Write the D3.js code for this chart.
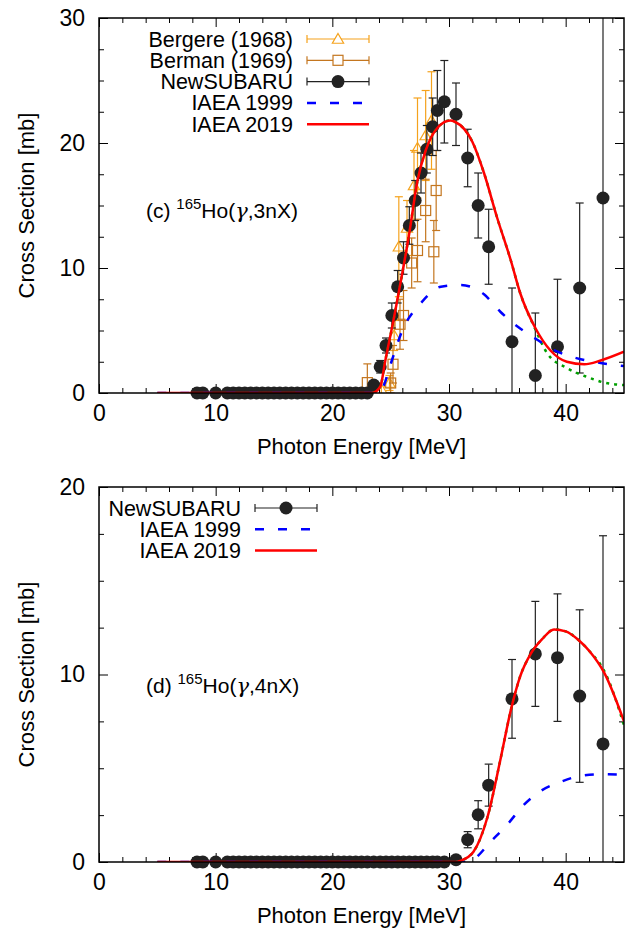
<!DOCTYPE html>
<html>
<head>
<meta charset="utf-8">
<script src="https://cdn.jsdelivr.net/npm/d3@7"></script>
<style>
body { margin: 0; background: #fff; }
text { font-family: "Liberation Sans", Arial, sans-serif; fill: #000; }
</style>
</head>
<body>
<div id="chart"></div>
<script>
// ---------- data ----------
// NewSUBARU energies (shared by both panels)
let nsEnergy = [8.4, 8.9, 10.0, 11.0, 11.5, 12.0, 12.5, 13.0, 13.5, 14.0, 14.5, 15.0, 15.5, 16.0,
  16.5, 17.0, 17.5, 18.0, 18.5, 19.0, 19.5, 20.0, 20.5, 21.0, 21.5, 22.0, 22.5, 23.0,
  23.55, 24.1, 24.6, 25.1, 25.6, 26.1, 26.6, 27.1, 27.6, 28.1, 28.6, 29.0, 29.6,
  30.6, 31.6, 32.5, 33.4, 35.4, 37.4, 39.3, 41.2, 43.2];

// (g,3nX)
let ns3Value = [0, 0, 0, 0, 0, 0, 0, 0, 0, 0, 0, 0, 0, 0, 0, 0, 0, 0, 0, 0, 0, 0, 0, 0, 0, 0, 0, 0,
  0.64, 2.1, 3.8, 6.2, 8.5, 10.8, 13.4, 15.4, 17.6, 19.5, 21.3, 22.6, 23.3,
  22.3, 18.8, 15.0, 11.7, 4.1, 1.4, 3.7, 8.4, 15.6];
let ns3Error = [0, 0, 0, 0, 0, 0, 0, 0, 0, 0, 0, 0, 0, 0, 0, 0, 0, 0, 0, 0, 0, 0, 0, 0, 0, 0, 0, 0,
  0.3, 0.5, 0.6, 1.0, 1.3, 1.3, 1.5, 1.6, 1.6, 1.9, 2.3, 3.2, 3.3,
  2.5, 2.3, 2.6, 3.0, 4.3, 5.0, 5.4, 6.8, 17.0];

// (g,4nX)
let ns4Value = [0, 0, 0, 0, 0, 0, 0, 0, 0, 0, 0, 0, 0, 0, 0, 0, 0, 0, 0, 0, 0, 0, 0, 0, 0, 0, 0, 0,
  0, 0, 0, 0, 0, 0, 0, 0, 0, 0, 0, 0, 0,
  0.12, 1.19, 2.52, 4.1, 8.7, 11.1, 10.9, 8.85, 6.3];
let ns4Error = [0, 0, 0, 0, 0, 0, 0, 0, 0, 0, 0, 0, 0, 0, 0, 0, 0, 0, 0, 0, 0, 0, 0, 0, 0, 0, 0, 0,
  0, 0, 0, 0, 0, 0, 0, 0, 0, 0, 0, 0, 0,
  0.1, 0.43, 0.75, 1.12, 2.1, 2.8, 3.4, 4.6, 11.1];

// Bergere (1968), (g,3nX)
let bergereEnergy = [24.2, 24.9, 25.3, 25.7, 26.4, 27.0, 27.3, 28.0, 28.5];
let bergereValue  = [0.3, 0.8, 4.6, 11.7, 13.2, 16.6, 19.6, 20.6, 21.8];
let bergereError  = [0.5, 0.6, 1.2, 4.0, 2.2, 2.8, 4.0, 3.6, 3.9];

// Berman (1969), (g,3nX)
let bermanEnergy = [23.0, 25.0, 25.2, 25.8, 26.1, 26.8, 27.3, 28.0, 28.7, 28.9];
let bermanValue  = [0.83, 0.8, 2.3, 5.5, 6.2, 10.4, 11.4, 14.6, 11.3, 16.2];
let bermanError  = [1.5, 0.8, 1.5, 2.0, 2.0, 2.0, 2.5, 2.5, 2.5, 3.2];

// evaluated curves, (g,3nX)
let iaea2019E3 = [5, 23.0, 23.4, 24.1, 24.55, 25.3, 26.0, 26.6, 27.3, 28.0, 29.0, 30.1, 30.5, 32.0,
  33.0, 34.1, 35.3, 36.1, 37.4, 38.7, 40.1, 41.6, 43.0, 45];
let iaea2019V3 = [0, 0, 0, 0.5, 2.64, 6.1, 9.6, 12.8, 17.0, 19.4, 21.2, 21.8, 21.7, 20.1,
  17.6, 14.1, 10.6, 8.0, 5.2, 3.4, 2.5, 2.3, 2.6, 3.3];
let iaea1999E3 = [5, 23.8, 24.3, 25.1, 26.0, 27.6, 29.3, 31.0, 33.0, 34.4, 35.9, 37.6, 39.0, 41.0, 43.0, 45];
let iaea1999V3 = [0, 0, 0.4, 2.6, 5.0, 7.2, 8.5, 8.64, 7.9, 6.5, 5.3, 4.24, 3.44, 2.77, 2.4, 2.16];
let greenE3 = [23.4, 24.1, 24.55, 25.3, 26.0, 26.6, 27.3, 28.0, 29.0, 30.1, 30.5, 32.0, 33.0,
  34.1, 35.3, 36.1, 37.4, 38.4, 40.1, 41.9, 43.3, 45];
let greenV3 = [0, 0.5, 2.64, 6.1, 9.6, 12.8, 17.0, 19.4, 21.2, 21.8, 21.7, 20.1, 17.6,
  14.1, 10.6, 8.0, 5.1, 3.2, 2.0, 1.26, 0.83, 0.64];

// evaluated curves, (g,4nX)
let iaea2019E4 = [5, 30.6, 31.0, 32.1, 33.3, 34.4, 35.3, 36.1, 37.0, 38.0, 39.0, 40.0, 41.1, 42.1, 43.3, 45];
let iaea2019V4 = [0, 0, 0.07, 0.55, 2.4, 5.44, 8.1, 9.9, 11.1, 11.9, 12.4, 12.3, 11.84, 11.2, 10.1, 7.5];
let iaea1999E4 = [5, 31.5, 32.0, 33.6, 35.0, 36.4, 37.9, 39.6, 41.3, 43.0, 45];
let iaea1999V4 = [0, 0, 0.1, 1.1, 2.0, 3.04, 3.8, 4.28, 4.6, 4.68, 4.65];
let greenE4 = [30.6, 31.0, 32.1, 33.3, 34.4, 35.3, 36.1, 37.0, 38.0, 39.0, 40.0, 41.1, 42.1, 43.3, 45];
let greenV4 = [0, 0.07, 0.55, 2.4, 5.44, 8.1, 9.9, 11.1, 11.9, 12.4, 12.3, 11.84, 11.2, 10.2, 7.3];

let xTicks = [0, 10, 20, 30, 40];

// ---------- layout ----------
let width = 630, height = 929;
let plotLeft = 99, plotRight = 624;
let fontSize = 21,
    tickFont = 23,
    titleFont = 22;

let colBergere = '#f5a21c',
    colBerman = '#c4761f',
    colNS = '#222';

let svg = d3.select('#chart')
  .append('svg')
  .attr('width', width)
  .attr('height', height);

let zip = (xs, ys, es) => xs.map((e, i) => ({e: e, v: ys[i], err: es ? es[i] : 0}));

function drawPanel(p) {
  let x = d3.scaleLinear().domain([0, 45]).range([plotLeft, plotRight]);
  let y = d3.scaleLinear().domain([0, p.ymax]).range([p.bottom, p.top]);

  svg.append('clipPath').attr('id', 'clip' + p.id)
    .append('rect')
    .attr('x', plotLeft).attr('y', p.top)
    .attr('width', plotRight - plotLeft).attr('height', p.bottom - p.top);

  // axes: major + minor ticks on all four sides, pointing inwards
  let yTicks = d3.range(0, p.ymax + 0.1, 10);
  let xMinor = d3.range(2, 45, 2).filter(v => v % 10 !== 0);
  let yMinor = d3.range(2.5, p.ymax, 2.5).filter(v => v % 10 !== 0);

  let axes = svg.append('g').attr('class', 'axes');
  let addAxis = function(axis, tx, ty) {
    let a = axes.append('g').attr('transform', 'translate(' + tx + ',' + ty + ')').call(axis);
    a.select('.domain').remove();
    a.selectAll('line').attr('stroke', '#000').attr('stroke-width', 1);
    a.selectAll('text').attr('font-size', tickFont).attr('font-family', '"Liberation Sans", Arial, sans-serif').attr('fill', '#000');
    return a;
  };
  addAxis(d3.axisBottom(x).tickValues(xTicks).tickSize(-9).tickPadding(12), 0, p.bottom);
  addAxis(d3.axisBottom(x).tickValues(xMinor).tickSize(-5).tickFormat(''), 0, p.bottom);
  addAxis(d3.axisTop(x).tickValues(xTicks).tickSize(-9).tickFormat(''), 0, p.top);
  addAxis(d3.axisTop(x).tickValues(xMinor).tickSize(-5).tickFormat(''), 0, p.top);
  addAxis(d3.axisLeft(y).tickValues(yTicks).tickSize(-9).tickPadding(14), plotLeft, 0);
  addAxis(d3.axisLeft(y).tickValues(yMinor).tickSize(-5).tickFormat(''), plotLeft, 0);
  addAxis(d3.axisRight(y).tickValues(yTicks).tickSize(-9).tickFormat(''), plotRight, 0);
  addAxis(d3.axisRight(y).tickValues(yMinor).tickSize(-5).tickFormat(''), plotRight, 0);

  // axis titles
  svg.append('text')
    .attr('transform', 'translate(34,' + ((p.top + p.bottom) / 2) + ') rotate(-90)')
    .attr('text-anchor', 'middle')
    .attr('font-size', titleFont)
    .text('Cross Section [mb]');
  svg.append('text')
    .attr('x', (plotLeft + plotRight) / 2)
    .attr('y', p.bottom + 61)
    .attr('text-anchor', 'middle')
    .attr('font-size', titleFont)
    .text('Photon Energy [MeV]');

  let plot = svg.append('g').attr('clip-path', 'url(#clip' + p.id + ')');

  // error bars helper
  let errorBars = function(data, color) {
    let bars = plot.append('g')
      .selectAll('g')
      .data(data.filter(d => d.err > 0))
      .enter().append('g')
      .attr('stroke', color)
      .attr('stroke-width', 1.2);
    bars.append('line')
      .attr('x1', d => x(d.e)).attr('x2', d => x(d.e))
      .attr('y1', d => y(d.v - d.err)).attr('y2', d => y(d.v + d.err));
    bars.append('line')
      .attr('x1', d => x(d.e) - 4).attr('x2', d => x(d.e) + 4)
      .attr('y1', d => y(d.v + d.err)).attr('y2', d => y(d.v + d.err));
    bars.append('line')
      .attr('x1', d => x(d.e) - 4).attr('x2', d => x(d.e) + 4)
      .attr('y1', d => y(d.v - d.err)).attr('y2', d => y(d.v - d.err));
  };

  if (p.bergere) {
    let bg = zip(bergereEnergy, bergereValue, bergereError);
    errorBars(bg, colBergere);
    plot.append('g').selectAll('path')
      .data(bg).enter().append('path')
      .attr('d', d3.symbol().type(d3.symbolTriangle).size(55))
      .attr('transform', d => 'translate(' + x(d.e) + ',' + (y(d.v) + 1) + ')')
      .attr('fill', 'none').attr('stroke', colBergere).attr('stroke-width', 1.2);

    let bm = zip(bermanEnergy, bermanValue, bermanError);
    errorBars(bm, colBerman);
    plot.append('g').selectAll('rect')
      .data(bm).enter().append('rect')
      .attr('x', d => x(d.e) - 5).attr('y', d => y(d.v) - 5)
      .attr('width', 10).attr('height', 10)
      .attr('fill', 'none').attr('stroke', colBerman).attr('stroke-width', 1.2);
  }

  let ns = zip(nsEnergy, p.nsValue, p.nsError);
  errorBars(ns, colNS);
  // points are not clipped: the zero points sit on the axis as full circles
  let dots = svg.append('g');
  dots.selectAll('circle')
    .data(ns).enter().append('circle')
    .attr('cx', d => x(d.e)).attr('cy', d => y(d.v))
    .attr('r', 6.5)
    .attr('fill', colNS);

  let line = d3.line().x(d => x(d.e)).y(d => y(d.v)).curve(d3.curveMonotoneX);
  let curves = svg.append('g').attr('clip-path', 'url(#clip' + p.id + ')');

  curves.append('path').datum(zip(p.greenE, p.greenV))
    .attr('d', line).attr('fill', 'none')
    .attr('stroke', '#00a000').attr('stroke-width', 2.5).attr('stroke-dasharray', '3,5');
  curves.append('path').datum(zip(p.blueE, p.blueV))
    .attr('d', line).attr('fill', 'none')
    .attr('stroke', '#0000ff').attr('stroke-width', 2.5).attr('stroke-dasharray', '9,14');
  curves.append('path').datum(zip(p.redE, p.redV))
    .attr('d', line).attr('fill', 'none')
    .attr('stroke', '#ff0000').attr('stroke-width', 2.5);

  // frame
  svg.append('rect')
    .attr('x', plotLeft).attr('y', p.top)
    .attr('width', plotRight - plotLeft).attr('height', p.bottom - p.top)
    .attr('fill', 'none').attr('stroke', '#000').attr('stroke-width', 1.5);

  // reaction label
  let lab = svg.append('text')
    .attr('x', 146).attr('y', p.labelY)
    .attr('font-size', fontSize);
  lab.append('tspan').text(p.labelPrefix + ' ');
  lab.append('tspan').attr('dy', -9).attr('font-size', 15).text('165');
  lab.append('tspan').attr('dy', 9).text('Ho(');
  lab.append('tspan').attr('font-family', '"DejaVu Serif", serif').attr('font-style', 'italic').text('\u03b3');
  lab.append('tspan').text(p.labelReaction);

  // legend
  let items = [];
  if (p.bergere) {
    items.push({name: 'Bergere (1968)', kind: 'tri', color: colBergere});
    items.push({name: 'Berman (1969)', kind: 'sq', color: colBerman});
  }
  items.push({name: 'NewSUBARU', kind: 'dot', color: colNS});
  items.push({name: 'IAEA 1999', kind: 'dash', color: '#0000ff'});
  items.push({name: 'IAEA 2019', kind: 'solid', color: '#ff0000'});

  let lx0 = p.legendX, lx1 = p.legendX + 62, lmid = p.legendX + 31;
  let leg = svg.append('g').selectAll('g')
    .data(items).enter().append('g')
    .attr('transform', (d, i) => 'translate(0,' + (p.top + 21 + i * 21.3) + ')');
  leg.append('text')
    .attr('x', p.legendX - 14).attr('y', 7.5)
    .attr('text-anchor', 'end')
    .attr('font-size', fontSize + 0.5)
    .text(d => d.name);
  leg.each(function(d) {
    let g = d3.select(this);
    if (d.kind === 'dash' || d.kind === 'solid') {
      g.append('line').attr('x1', lx0).attr('x2', lx1).attr('y1', 0).attr('y2', 0)
        .attr('stroke', d.color).attr('stroke-width', 2.5)
        .attr('stroke-dasharray', d.kind === 'dash' ? '9,14' : null);
      return;
    }
    g.append('line').attr('x1', lx0).attr('x2', lx1).attr('y1', 0).attr('y2', 0)
      .attr('stroke', d.color).attr('stroke-width', 1.2);
    [lx0, lx1].forEach(cx => {
      g.append('line').attr('x1', cx).attr('x2', cx).attr('y1', -4).attr('y2', 4)
        .attr('stroke', d.color).attr('stroke-width', 1.2);
    });
    if (d.kind === 'dot') {
      g.append('circle').attr('cx', lmid).attr('cy', 0).attr('r', 6.5).attr('fill', d.color);
    } else if (d.kind === 'sq') {
      g.append('rect').attr('x', lmid - 5).attr('y', -5).attr('width', 10).attr('height', 10)
        .attr('fill', '#fff').attr('stroke', d.color).attr('stroke-width', 1.2);
    } else {
      g.append('path').attr('d', d3.symbol().type(d3.symbolTriangle).size(55))
        .attr('transform', 'translate(' + lmid + ',1)')
        .attr('fill', '#fff').attr('stroke', d.color).attr('stroke-width', 1.2);
    }
  });
}

drawPanel({
  id: 'c', top: 18, bottom: 393, ymax: 30,
  nsValue: ns3Value, nsError: ns3Error, bergere: true,
  redE: iaea2019E3, redV: iaea2019V3,
  blueE: iaea1999E3, blueV: iaea1999V3,
  greenE: greenE3, greenV: greenV3,
  labelPrefix: '(c)', labelReaction: ',3nX)', labelY: 218,
  legendX: 307
});

drawPanel({
  id: 'd', top: 487, bottom: 862, ymax: 20,
  nsValue: ns4Value, nsError: ns4Error, bergere: false,
  redE: iaea2019E4, redV: iaea2019V4,
  blueE: iaea1999E4, blueV: iaea1999V4,
  greenE: greenE4, greenV: greenV4,
  labelPrefix: '(d)', labelReaction: ',4nX)', labelY: 693,
  legendX: 255
});
</script>
</body>
</html>
